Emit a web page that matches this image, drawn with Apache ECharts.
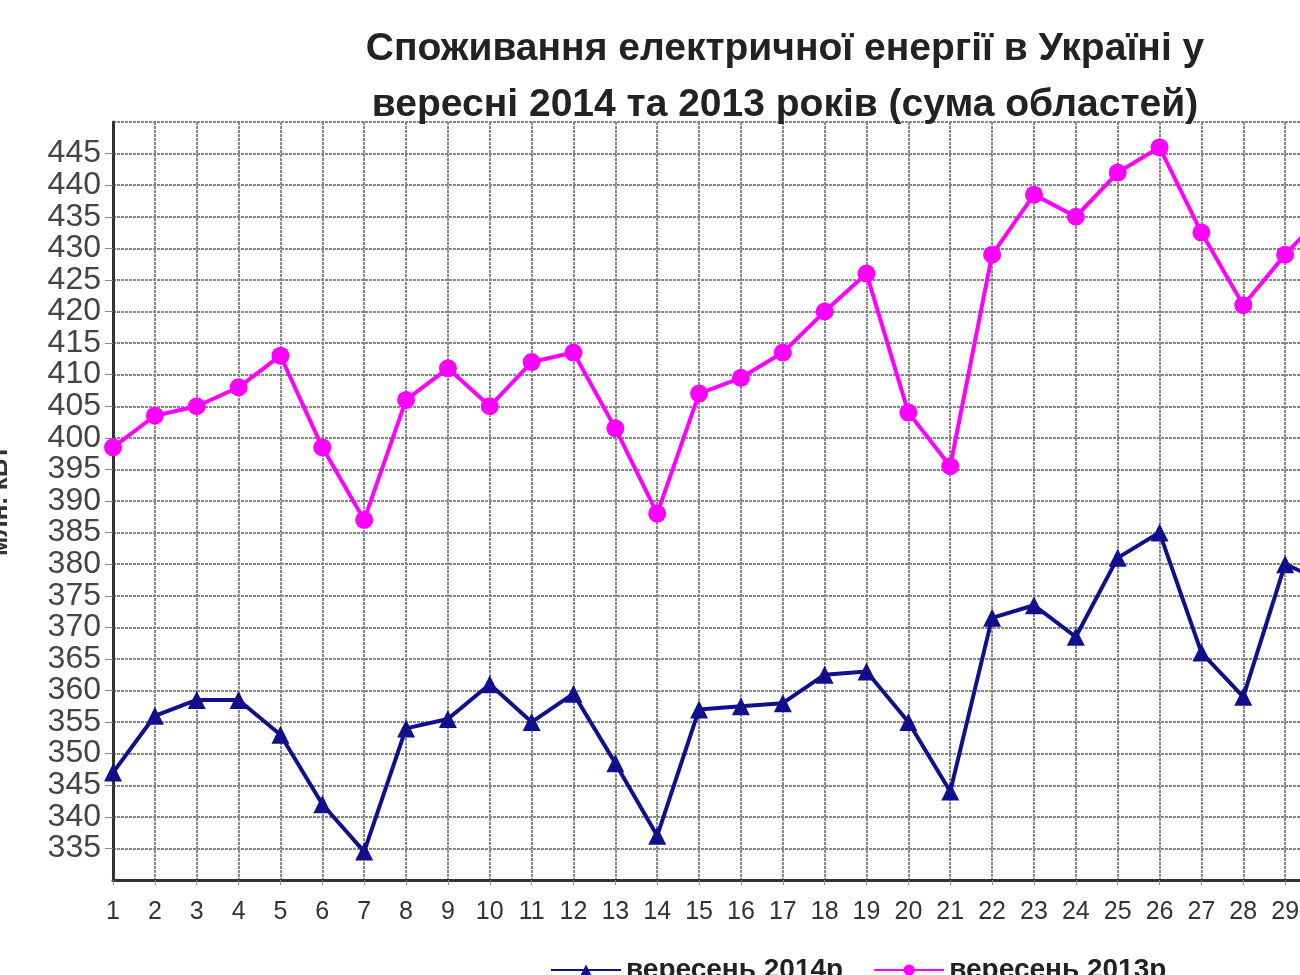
<!DOCTYPE html>
<html><head><meta charset="utf-8">
<script src="https://cdn.jsdelivr.net/npm/echarts@6/dist/echarts.min.js"></script>
<style>html,body{margin:0;padding:0;background:#fff}#main{width:1300px;height:975px}</style>
</head><body><div id="main"></div>
<script>
var days = [];
for (var i = 1; i <= 30; i++) days.push(i);
var sep2014 = [347, 356, 358.5, 358.5, 353, 342, 334.5, 354, 355.5, 361, 355, 359.5, 348.5, 337, 357, 357.5, 358, 362.5, 363, 355, 344, 371.5, 373.5, 368.5, 381, 385, 366, 359, 380, 377];
var sep2013 = [398.5, 403.5, 405, 408, 413, 398.5, 387, 406, 411, 405, 412, 413.5, 401.5, 388, 407, 409.5, 413.5, 420, 426, 404, 395.5, 429, 438.5, 435, 442, 446, 432.5, 421, 429, 436];
var pair = function (arr) { return arr.map(function (v, i) { return [days[i], v]; }); };

var myChart = echarts.init(document.getElementById('main'));
myChart.setOption({
  animation: false,
  title: {
    text: 'Споживання електричної енергії в Україні у\nвересні 2014 та 2013 років (сума областей)',
    left: 780, textAlign: 'center', top: 16,
    textStyle: { fontFamily: 'Liberation Sans', fontSize: 39, fontWeight: 'bold', color: '#222', lineHeight: 56 }
  },
  legend: {
    bottom: -14, left: 545, itemGap: 30, itemWidth: 70, itemHeight: 14,
    textStyle: { fontFamily: 'Liberation Sans', fontSize: 28, fontWeight: 'bold', color: '#222' },
    data: ['вересень 2014р', 'вересень 2013р']
  },
  grid: { left: 113, right: -27, top: 122, bottom: 95, containLabel: false, outerBoundsMode: 'none' },
  xAxis: {
    type: 'value', min: 1, max: 30, interval: 1,
    axisLine: { lineStyle: { color: '#333', width: 3 } },
    axisTick: { show: true, lineStyle: { color: '#888' } },
    axisLabel: { fontFamily: 'Liberation Sans', fontSize: 25, color: '#333', margin: 20 },
    splitLine: { lineStyle: { color: '#888', width: 2, type: [3, 1] } }
  },
  yAxis: {
    type: 'value', min: 330, max: 450, interval: 5,
    name: 'млн. кВт', nameLocation: 'middle', nameGap: 100, nameRotate: 90,
    nameTextStyle: { fontFamily: 'Liberation Sans', fontSize: 26, fontWeight: 'bold', color: '#333' },
    axisLine: { show: true, lineStyle: { color: '#333', width: 3 } },
    axisTick: { show: true, length: 8, lineStyle: { color: '#888' } },
    axisLabel: { fontFamily: 'Liberation Sans', fontSize: 32, color: '#444', margin: 12 },
    splitLine: { lineStyle: { color: '#888', width: 2, type: [3, 1] } }
  },
  series: [
    { name: 'вересень 2014р', type: 'line', data: pair(sep2014), symbol: 'triangle', symbolSize: 18,
      lineStyle: { color: '#10108c', width: 4 }, itemStyle: { color: '#10108c' } },
    { name: 'вересень 2013р', type: 'line', data: pair(sep2013), symbol: 'circle', symbolSize: 18,
      lineStyle: { color: '#ff00ff', width: 4 }, itemStyle: { color: '#ff00ff' } }
  ]
});
</script></body></html>
